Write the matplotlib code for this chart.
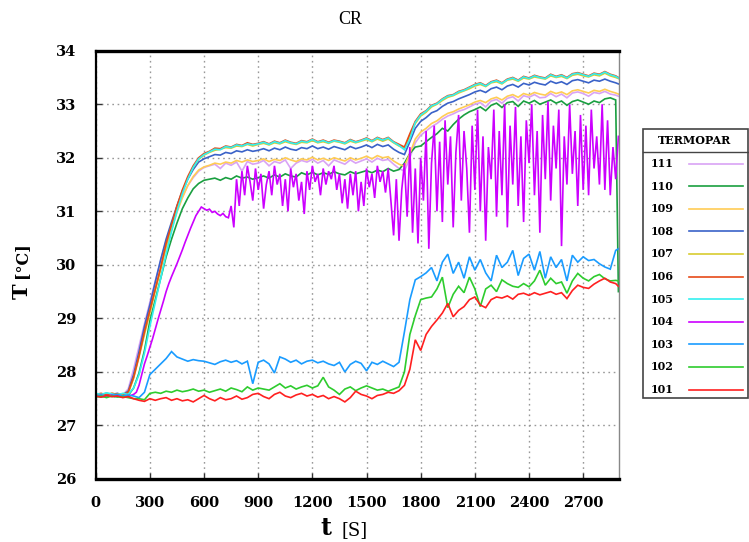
import matplotlib
matplotlib.use('Agg')
import matplotlib.pyplot as plt
import numpy as np
from matplotlib.lines import Line2D
from matplotlib.patches import Rectangle

# sampling grids (s)
t30 = np.append(np.arange(0, 2881, 30), 2895)
t15 = np.arange(0, 2896, 15)

# thermocouple readings (°C)
s111 = [27.55, 27.57, 27.54, 27.58, 27.55, 27.57, 27.68, 28.05, 28.48, 28.90,
        29.30, 29.70, 30.08, 30.45, 30.75, 31.02, 31.28, 31.48, 31.63, 31.75,
        31.82, 31.85, 31.88, 31.80, 31.90, 31.86, 31.92, 31.75, 31.93, 31.88,
        31.90, 31.95, 31.85, 31.93, 31.90, 31.96, 31.80, 31.90, 31.95, 31.92,
        31.97, 31.90, 31.95, 31.85, 31.96, 31.92, 31.88, 31.96, 31.90, 31.94,
        31.98, 31.92, 31.99, 31.95, 31.97, 31.88, 31.80, 31.75, 32.00, 32.28,
        32.42, 32.50, 32.58, 32.64, 32.72, 32.78, 32.82, 32.87, 32.90, 32.95,
        33.00, 33.03, 32.95, 33.06, 33.09, 33.02, 33.11, 33.14, 33.06, 33.16,
        33.13, 33.18, 33.12, 33.13, 33.20, 33.14, 33.19, 33.12, 33.21, 33.23,
        33.20, 33.15, 33.22, 33.20, 33.24, 33.19, 33.17,
        33.15]
s110 = [27.55, 27.53, 27.56, 27.54, 27.55, 27.53, 27.56, 27.70, 27.98, 28.40,
        28.95, 29.35, 29.75, 30.15, 30.48, 30.78, 31.05, 31.25, 31.42, 31.52,
        31.58, 31.60, 31.62, 31.58, 31.63, 31.60, 31.66, 31.62, 31.64, 31.60,
        31.63, 31.66, 31.62, 31.68, 31.64, 31.70, 31.66, 31.64, 31.72, 31.68,
        31.73, 31.68, 31.72, 31.69, 31.74, 31.70, 31.68, 31.74, 31.70, 31.73,
        31.76, 31.72, 31.77, 31.74, 31.80, 31.75, 31.78, 31.90, 32.08, 32.20,
        32.22, 32.30, 32.38, 32.45, 32.55, 32.50, 32.62, 32.72, 32.80, 32.86,
        32.90, 32.95, 32.88, 32.98, 33.02, 32.94, 33.03, 33.05, 32.96, 33.06,
        33.02, 33.07, 33.00, 33.04, 33.08, 33.02, 33.06, 32.98, 33.05, 33.08,
        33.04, 33.00, 33.06, 33.03, 33.10, 33.12, 33.08,
        29.50]
s109 = [27.56, 27.59, 27.57, 27.60, 27.58, 27.59, 27.63, 27.92, 28.32, 28.76,
        29.15, 29.55, 29.93, 30.33, 30.66, 30.98, 31.25, 31.48, 31.65, 31.77,
        31.83, 31.86, 31.90, 31.88, 31.92, 31.90, 31.95, 31.92, 31.96, 31.93,
        31.95, 31.98, 31.93, 31.97, 31.95, 32.00, 31.96, 31.93, 31.98, 31.96,
        32.01, 31.96, 31.99, 31.95, 32.00, 31.97, 31.94, 32.00, 31.96, 31.99,
        32.03, 31.98, 32.04, 32.00, 32.02, 31.94, 31.88, 31.84, 32.08, 32.35,
        32.48, 32.55, 32.64, 32.69, 32.77, 32.83, 32.86, 32.91, 32.95, 32.99,
        33.04, 33.07, 33.03, 33.10, 33.13, 33.08, 33.15, 33.18, 33.13, 33.20,
        33.17, 33.22, 33.19, 33.17, 33.24, 33.20, 33.23, 33.18, 33.25, 33.27,
        33.24, 33.21, 33.26, 33.24, 33.28, 33.24, 33.21,
        33.19]
s108 = [27.59, 27.57, 27.60, 27.58, 27.60, 27.57, 27.64, 27.95, 28.38, 28.85,
        29.25, 29.68, 30.10, 30.48, 30.80, 31.10, 31.38, 31.60, 31.78, 31.92,
        31.98, 32.02, 32.06, 32.05, 32.10, 32.08, 32.13, 32.11, 32.15, 32.12,
        32.14, 32.17, 32.13, 32.18, 32.15, 32.20, 32.16, 32.14, 32.19, 32.17,
        32.22, 32.17, 32.20, 32.16, 32.21, 32.18, 32.15, 32.21, 32.17, 32.20,
        32.24, 32.19, 32.25, 32.21, 32.24, 32.16, 32.10, 32.06, 32.30, 32.55,
        32.68, 32.75, 32.84, 32.88, 32.96, 33.02, 33.05, 33.10, 33.14, 33.18,
        33.23, 33.26, 33.22, 33.29, 33.32, 33.27, 33.34, 33.37, 33.32, 33.39,
        33.36, 33.41, 33.38, 33.36, 33.43, 33.39, 33.42, 33.37, 33.44, 33.46,
        33.43, 33.40, 33.45, 33.43, 33.47, 33.43, 33.40,
        33.38]
s107 = [27.57, 27.58, 27.60, 27.57, 27.59, 27.58, 27.60, 27.88, 28.28, 28.70,
        29.10, 29.52, 29.92, 30.35, 30.72, 31.05, 31.36, 31.62, 31.82, 31.97,
        32.05, 32.10, 32.14, 32.16, 32.19, 32.18, 32.22, 32.21, 32.25, 32.22,
        32.25, 32.27, 32.24, 32.28, 32.26, 32.30, 32.27, 32.25, 32.29, 32.28,
        32.32, 32.28, 32.30, 32.27, 32.31, 32.29, 32.26, 32.31, 32.28, 32.31,
        32.34, 32.30, 32.35, 32.31, 32.35, 32.28, 32.22, 32.18, 32.42, 32.64,
        32.78, 32.85, 32.95, 33.00, 33.07, 33.13, 33.16, 33.21, 33.25, 33.29,
        33.34, 33.37, 33.33, 33.40, 33.42, 33.38, 33.45, 33.47, 33.43, 33.49,
        33.47, 33.51, 33.49, 33.47, 33.53, 33.50, 33.52, 33.48, 33.54, 33.56,
        33.53, 33.51, 33.55, 33.53, 33.58, 33.53, 33.50,
        33.48]
s106 = [27.58, 27.60, 27.57, 27.60, 27.58, 27.56, 27.62, 27.90, 28.30, 28.75,
        29.15, 29.55, 29.95, 30.40, 30.75, 31.10, 31.40, 31.65, 31.85, 32.00,
        32.08, 32.12, 32.18, 32.17, 32.22, 32.20, 32.25, 32.23, 32.28, 32.25,
        32.27, 32.30, 32.26, 32.31, 32.28, 32.33, 32.29, 32.27, 32.32, 32.30,
        32.35, 32.30, 32.33, 32.29, 32.33, 32.31, 32.28, 32.34, 32.30, 32.33,
        32.37, 32.32, 32.38, 32.34, 32.38, 32.30, 32.25, 32.20, 32.45, 32.68,
        32.82, 32.88, 32.98, 33.02, 33.10, 33.16, 33.18, 33.24, 33.27, 33.32,
        33.37, 33.40, 33.35, 33.42, 33.45, 33.40, 33.47, 33.50, 33.45, 33.52,
        33.49, 33.54, 33.51, 33.49, 33.56, 33.52, 33.55, 33.50, 33.57, 33.59,
        33.56, 33.53, 33.58, 33.56, 33.61, 33.56, 33.53,
        33.50]
s105 = [27.60, 27.58, 27.61, 27.59, 27.57, 27.60, 27.58, 27.70, 27.95, 28.35,
        28.85, 29.30, 29.75, 30.20, 30.62, 31.00, 31.33, 31.60, 31.82, 31.98,
        32.06, 32.11, 32.16, 32.15, 32.21, 32.19, 32.24, 32.22, 32.26, 32.24,
        32.26, 32.29, 32.25, 32.30, 32.27, 32.32, 32.28, 32.26, 32.31, 32.29,
        32.34, 32.29, 32.32, 32.28, 32.32, 32.30, 32.27, 32.33, 32.29, 32.32,
        32.36, 32.31, 32.37, 32.33, 32.37, 32.29, 32.23, 32.15, 32.35, 32.66,
        32.80, 32.87, 32.97, 33.01, 33.09, 33.15, 33.17, 33.23, 33.26, 33.31,
        33.36, 33.39, 33.34, 33.41, 33.44, 33.39, 33.46, 33.49, 33.44, 33.51,
        33.48, 33.53, 33.50, 33.48, 33.55, 33.51, 33.54, 33.49, 33.56, 33.58,
        33.55, 33.52, 33.57, 33.55, 33.60, 33.55, 33.52,
        33.49]
s104 = [27.56, 27.55, 27.57, 27.54, 27.56, 27.55, 27.57, 27.54, 27.56, 27.55,
        27.53, 27.55, 27.54, 27.56, 27.58, 27.62, 27.75, 27.95, 28.15, 28.30,
        28.46, 28.62, 28.80, 28.98, 29.15, 29.32, 29.50, 29.65, 29.78, 29.90,
        30.02, 30.15, 30.28, 30.42, 30.55, 30.68, 30.80, 30.92, 31.00, 31.08,
        31.05, 31.02, 31.04, 30.98, 31.00, 30.95, 30.92, 30.96, 30.90, 30.88,
        31.10, 30.70, 31.60, 31.10, 31.75, 31.30, 31.85, 31.55, 31.20, 31.80,
        31.40, 31.70, 31.05, 31.50, 31.75, 31.30, 31.85, 31.50, 31.70, 31.10,
        31.60, 31.00, 31.80, 31.45, 31.70, 31.20, 31.55, 30.95, 31.75, 31.40,
        31.85, 31.55, 31.70, 31.30, 31.80, 31.50, 31.75, 31.60, 31.85, 31.40,
        31.70, 31.15, 31.60, 31.05, 31.70, 31.30, 31.75, 31.00, 31.55, 31.10,
        31.80, 31.45, 31.70, 31.25, 31.85, 31.55, 31.75, 31.35, 31.80, 31.20,
        30.55, 31.60, 30.45, 31.40, 31.90, 30.90, 32.20, 30.60, 31.80, 30.40,
        32.00, 31.20, 32.50, 30.30, 31.90, 32.60, 31.00, 32.30, 30.80, 32.70,
        31.50, 32.40, 30.70, 32.10, 32.80, 31.20, 32.50, 31.80, 30.60, 32.60,
        31.40, 32.90, 31.00, 32.40, 30.45, 32.20, 31.60, 32.90, 30.90, 32.50,
        31.30, 33.00, 30.70, 32.60, 31.50, 32.95, 31.10, 32.40, 30.80, 32.70,
        31.90, 33.00, 31.30, 32.50, 30.60, 32.80, 31.60, 33.05, 31.20, 32.60,
        31.80, 32.90, 30.35, 32.40, 31.50, 33.00, 31.70, 32.50, 31.10, 32.80,
        31.40, 32.60, 31.30, 32.90, 31.80, 32.40, 31.50, 33.00, 31.40, 32.70,
        31.30, 32.20, 31.60, 32.40]
s103 = [27.55, 27.57, 27.54, 27.56, 27.58, 27.55, 27.57, 27.55, 27.52, 27.62,
        27.95, 28.05, 28.15, 28.25, 28.38, 28.28, 28.24, 28.20, 28.23, 28.21,
        28.20, 28.17, 28.14, 28.19, 28.22, 28.18, 28.21, 28.15, 28.20, 27.78,
        28.18, 28.22, 28.15, 27.98, 28.28, 28.24, 28.18, 28.22, 28.15, 28.20,
        28.22, 28.17, 28.20, 28.15, 28.12, 28.18, 28.00, 28.14, 28.20, 28.16,
        28.02, 28.18, 28.14, 28.20, 28.15, 28.10, 28.18, 28.75, 29.35, 29.72,
        29.78, 29.85, 29.95, 29.70, 30.05, 30.20, 29.84, 30.05, 29.75, 30.15,
        29.90, 30.10, 29.85, 29.70, 30.18, 29.95, 30.05, 30.27, 29.80, 30.12,
        30.20, 29.90, 30.25, 29.75, 30.15, 29.95, 30.10, 29.70, 30.18, 30.05,
        30.15, 30.08, 30.10, 30.02, 29.96, 29.92, 30.27,
        30.30]
s102 = [27.53, 27.55, 27.52, 27.55, 27.53, 27.54, 27.52, 27.50, 27.50, 27.48,
        27.60, 27.62, 27.60, 27.64, 27.62, 27.66, 27.63, 27.65, 27.68, 27.64,
        27.66, 27.62, 27.65, 27.68, 27.64, 27.70, 27.67, 27.63, 27.72, 27.66,
        27.70, 27.68, 27.66, 27.72, 27.78, 27.70, 27.74, 27.68, 27.72, 27.75,
        27.70, 27.74, 27.90, 27.72, 27.66, 27.58, 27.68, 27.72, 27.65, 27.70,
        27.74, 27.70, 27.66, 27.68, 27.64, 27.68, 27.72, 28.00, 28.70, 29.05,
        29.35, 29.38, 29.40, 29.55, 29.77, 29.20, 29.45, 29.60, 29.48, 29.77,
        29.55, 29.22, 29.55, 29.62, 29.50, 29.72, 29.65, 29.60, 29.58, 29.65,
        29.59, 29.70, 29.90, 29.62, 29.75, 29.65, 29.68, 29.47, 29.70, 29.84,
        29.75, 29.70, 29.78, 29.82, 29.74, 29.70, 29.71,
        29.70]
s101 = [27.55, 27.53, 27.56, 27.54, 27.55, 27.52, 27.54, 27.50, 27.47, 27.45,
        27.50, 27.47, 27.50, 27.52, 27.47, 27.50, 27.46, 27.48, 27.44, 27.50,
        27.56, 27.50, 27.46, 27.52, 27.48, 27.50, 27.55, 27.49, 27.52, 27.58,
        27.60, 27.54, 27.50, 27.58, 27.62, 27.55, 27.52, 27.57, 27.60, 27.55,
        27.58, 27.53, 27.56, 27.50, 27.54, 27.50, 27.44, 27.52, 27.64, 27.58,
        27.55, 27.50, 27.56, 27.58, 27.62, 27.60, 27.65, 27.75, 28.05, 28.60,
        28.40, 28.70, 28.85, 28.97, 29.10, 29.28, 29.03, 29.15, 29.22, 29.35,
        29.40, 29.25, 29.20, 29.35, 29.40, 29.38, 29.42, 29.36, 29.45, 29.47,
        29.43, 29.48, 29.44, 29.47, 29.50, 29.45, 29.48, 29.37, 29.52, 29.62,
        29.58, 29.56, 29.64, 29.70, 29.75, 29.68, 29.65,
        29.60]

names = ["111", "110", "109", "108", "107", "106", "105", "104", "103", "102", "101"]
series = [s111, s110, s109, s108, s107, s106, s105, s104, s103, s102, s101]
times = [t30, t30, t30, t30, t30, t30, t30, t15, t30, t30, t30]
colors = ["#d9a3f5", "#1a9f40", "#ffcc55", "#3a62c8", "#d8cc30", "#e64a19",
          "#33f0f0", "#cc00ff", "#1a9cff", "#2ecc2e", "#ff2020"]

xticks = list(range(0, 2701, 300))
yticks = list(range(26, 35))

W, H = 749, 542
fig = plt.figure(figsize=(W / 100, H / 100), dpi=100)
fig.patch.set_facecolor('white')
ax = fig.add_axes([95.7 / W, 1 - 479 / H, 523.6 / W, 428.3 / H])

for t, y, c in zip(times, series, colors):
    ax.plot(t, y, color=c, lw=1.2, solid_joinstyle='miter')

# ── Axes ──────────────────────────────────────────────────────────────────────
ax.set_xlim(0, 2900)
ax.set_ylim(26, 34)
ax.set_xticks(xticks)
ax.set_yticks(yticks)
tick_font = dict(family='DejaVu Serif', weight='bold', size=10.5)
ax.set_xticklabels([str(v) for v in xticks], **tick_font)
ax.set_yticklabels([str(v) for v in yticks], **tick_font)
ax.tick_params(direction='in', length=4, width=1, color='#333333', pad=12)
ax.tick_params(axis='y', pad=14)

ax.grid(True, color='#999999', linestyle=(0, (1.2, 2.6)), linewidth=1.0)
ax.set_axisbelow(True)

ax.spines['top'].set_linewidth(2.4)
ax.spines['bottom'].set_linewidth(2.4)
ax.spines['left'].set_linewidth(1.6)
ax.spines['right'].set_linewidth(1.0)
ax.spines['right'].set_color('#888888')

# ── Labels ────────────────────────────────────────────────────────────────────
fig.text(350 / W, 1 - 19 / H, "CR", family='Liberation Serif', fontsize=13,
         ha='center', va='center')
fig.text(326 / W, 1 - 528 / H, "t", family='DejaVu Serif', weight='bold',
         fontsize=17, ha='center', va='center')
fig.text(355 / W, 1 - 530 / H, "[S]", family='DejaVu Serif', fontsize=13,
         ha='center', va='center')
fig.text(22 / W, 1 - 291 / H, "T", family='DejaVu Serif', weight='bold',
         fontsize=15, ha='center', va='center', rotation=90)
fig.text(22 / W, 1 - 260 / H, "[°C]", family='DejaVu Serif', weight='bold',
         fontsize=11.5, ha='center', va='center', rotation=90)

# ── Key box ───────────────────────────────────────────────────────────────────
def fx(x):
    return x / W


def fy(y):
    return 1 - y / H


fig.patches.append(Rectangle((fx(643), fy(398.3)), fx(748) - fx(643),
                             fy(129.3) - fy(398.3), transform=fig.transFigure,
                             facecolor='white', edgecolor='#444444', lw=1.2))
fig.lines.append(Line2D([fx(643), fx(748)], [fy(151.7), fy(151.7)],
                        transform=fig.transFigure, color='#444444', lw=1.0))
fig.text(fx(695), fy(141), "TERMOPAR", family='DejaVu Serif', weight='bold',
         fontsize=8, ha='center', va='center')

row_y0, row_dy = 163.5, 22.6
for k, (name, c) in enumerate(zip(names, colors)):
    yy = row_y0 + k * row_dy
    fig.text(fx(651), fy(yy), name, family='DejaVu Serif', weight='bold',
             fontsize=8, ha='left', va='center')
    fig.lines.append(Line2D([fx(689), fx(742.5)], [fy(yy), fy(yy)],
                            transform=fig.transFigure, color=c, lw=1.2))

fig.savefig('out.png', dpi=100, facecolor='white')
